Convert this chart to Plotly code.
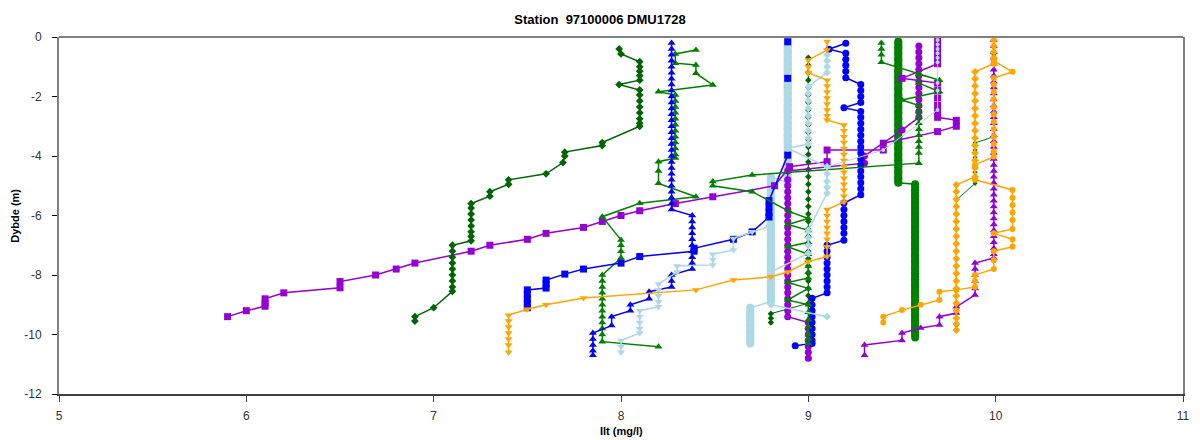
import plotly.graph_objects as go

# ---------------- axis ticks ----------------
x_tickvals = [5, 6, 7, 8, 9, 10, 11]
x_ticktext = ["5", "6", "7", "8", "9", "10", "11"]
y_tickvals = [0, -2, -4, -6, -8, -10, -12]
y_ticktext = ["0", "-2", "-4", "-6", "-8", "-10", "-12"]

title_text = "Station\u00a0 97100006 DMU1728"
x_title = "Ilt (mg/l)"
y_title = "Dybde (m)"

# ---------------- profiles (oxygen mg/l, depth m) ----------------
# dark green diamonds, 9.0 column
dg2_x = [9.00, 9.00, 9.00, 9.00, 9.00, 9.00, 9.00, 9.00, 9.00, 9.00, 9.00, 9.00, 9.00, 9.00, 9.00, 9.00, 9.00,
         9.00, 9.00, 9.00, 9.00, 9.00, 9.00, 9.00, 9.00, 9.00, 9.00, 9.00, 9.00, 9.00, 9.00, 9.00, 9.00, 9.00,
         8.80, 8.80, 8.80]
dg2_y = [-0.70, -0.95, -1.20, -1.45, -1.70, -1.95, -2.20, -2.45, -2.70, -2.95, -3.20, -3.45, -3.70, -3.95, -4.20, -4.45, -4.70,
         -4.95, -5.20, -5.45, -5.70, -5.95, -6.20, -6.45, -6.70, -6.95, -7.20, -7.45, -7.70, -7.95, -8.20, -8.45, -8.70, -8.95,
         -9.30, -9.45, -9.60]

# dark green diamonds, 9.8-10.0 columns
dg3_x = [9.99, 9.99, 9.99, 9.99, 9.99, 9.99, 9.99, 9.99, 9.99, 9.99, 9.99, 9.99, 9.99, 9.99,
         9.89, 9.89, 9.89, 9.89, 9.89, 9.89, 9.89,
         9.79, 9.79, 9.79, 9.79, 9.79, 9.79, 9.79, 9.79, 9.79, 9.79, 9.79, 9.79, 9.79, 9.79, 9.79, 9.79, 9.79, 9.79]
dg3_y = [-0.10, -0.35, -0.60, -0.85, -1.10, -1.35, -1.60, -1.85, -2.10, -2.35, -2.60, -2.85, -3.10, -3.35,
         -3.56, -3.80, -4.05, -4.30, -4.55, -4.80, -4.92,
         -5.48, -5.70, -5.95, -6.20, -6.45, -6.70, -6.95, -7.20, -7.45, -7.70, -7.95, -8.20, -8.45, -8.70, -8.95, -9.20, -9.45, -9.70]

# green dense profile (thick bar)
gbar_x = [9.48, 9.48, 9.48, 9.48, 9.48, 9.48, 9.48, 9.48, 9.48, 9.48, 9.48, 9.48, 9.48, 9.48, 9.48, 9.48, 9.48, 9.48,
          9.48, 9.48, 9.48, 9.48, 9.48, 9.48, 9.48,
          9.57, 9.57, 9.57, 9.57, 9.57, 9.57, 9.57, 9.57, 9.57, 9.57, 9.57, 9.57, 9.57, 9.57, 9.57, 9.57, 9.57, 9.57,
          9.57, 9.57, 9.57, 9.57, 9.57, 9.57, 9.57, 9.57, 9.57]
gbar_y = [-0.15, -0.35, -0.55, -0.75, -0.95, -1.15, -1.35, -1.55, -1.75, -1.95, -2.15, -2.35, -2.55, -2.75, -2.95, -3.15, -3.35, -3.55,
          -3.75, -3.95, -4.15, -4.35, -4.55, -4.75, -4.90,
          -4.95, -5.15, -5.35, -5.55, -5.75, -5.95, -6.15, -6.35, -6.55, -6.75, -6.95, -7.15, -7.35, -7.55, -7.75, -7.95, -8.15, -8.35,
          -8.55, -8.75, -8.95, -9.15, -9.35, -9.55, -9.75, -9.95, -10.10]

# light blue dense profile (thick bar)
lbbar_x = [8.89, 8.89, 8.89, 8.89, 8.89, 8.89, 8.89, 8.89, 8.89, 8.89, 8.89, 8.89, 8.89, 8.89, 8.89, 8.89, 8.89, 8.89,
           8.89, 8.89, 8.89, 8.89, 8.89, 8.89, 8.89,
           8.80, 8.80, 8.80, 8.80, 8.80, 8.80, 8.80, 8.80, 8.80, 8.80, 8.80, 8.80, 8.80, 8.80, 8.80, 8.80, 8.80, 8.80,
           8.80, 8.80, 8.80, 8.80,
           8.69, 8.69, 8.69, 8.69, 8.69, 8.69, 8.69]
lbbar_y = [-0.10, -0.30, -0.50, -0.70, -0.90, -1.10, -1.30, -1.50, -1.70, -1.90, -2.10, -2.30, -2.50, -2.70, -2.90, -3.10, -3.30, -3.50,
           -3.70, -3.90, -4.10, -4.30, -4.50, -4.70, -4.90,
           -4.70, -4.90, -5.10, -5.30, -5.50, -5.70, -5.90, -6.10, -6.30, -6.50, -6.70, -6.90, -7.10, -7.30, -7.50, -7.70, -7.90, -8.10,
           -8.30, -8.50, -8.70, -8.90,
           -9.10, -9.30, -9.50, -9.70, -9.90, -10.10, -10.30]

# purple squares (long profile to the left)
pq_x = [9.69, 9.69, 9.69, 9.69, 9.69, 9.50, 9.69, 9.69, 9.69, 9.69, 9.69, 9.69, 9.79, 9.79, 9.69, 9.40, 9.40, 9.10, 9.10,
        8.90, 8.82, 8.49, 8.29, 8.10, 8.00, 7.90, 7.80, 7.60, 7.50, 7.30, 7.20, 6.90, 6.80, 6.69, 6.50, 6.50, 6.20,
        6.10, 6.10, 6.10, 6.00, 5.90]
pq_y = [-0.10, -0.30, -0.50, -0.70, -0.90, -1.39, -1.55, -1.80, -2.05, -2.30, -2.50, -2.70, -2.80, -3.00, -3.18, -3.57, -3.80, -3.80, -4.19,
        -4.36, -5.00, -5.37, -5.60, -5.84, -6.00, -6.20, -6.40, -6.60, -6.80, -7.00, -7.20, -7.60, -7.80, -8.00, -8.22, -8.43, -8.60,
        -8.80, -8.95, -9.05, -9.20, -9.40]

# dark green diamonds (left profile)
dg1_x = [7.99, 8.00, 8.10, 8.10, 8.10, 8.10, 8.10, 7.99, 8.10, 8.10, 8.10, 8.10, 8.10, 8.10, 8.10, 8.10,
         7.90, 7.90, 7.70, 7.70, 7.69, 7.60, 7.40, 7.40, 7.30, 7.30, 7.20, 7.20, 7.20, 7.20, 7.20, 7.20, 7.20, 7.20,
         7.10, 7.10, 7.10, 7.10, 7.10, 7.10, 7.10, 7.10, 7.10, 7.00, 6.90, 6.90]
dg1_y = [-0.40, -0.57, -0.83, -1.00, -1.15, -1.30, -1.45, -1.60, -1.78, -1.95, -2.15, -2.35, -2.55, -2.75, -2.90, -3.00,
         -3.55, -3.65, -3.87, -4.00, -4.22, -4.60, -4.80, -4.95, -5.20, -5.35, -5.60, -5.75, -5.95, -6.15, -6.35, -6.55, -6.70, -6.85,
         -7.00, -7.20, -7.40, -7.60, -7.80, -8.00, -8.20, -8.40, -8.55, -9.10, -9.40, -9.55]

# green triangles, profile 1
gt1_x = [8.40, 8.29, 8.29, 8.40, 8.40, 8.49, 8.20,
         8.29, 8.29, 8.29, 8.29, 8.29, 8.29, 8.29, 8.29, 8.29, 8.29, 8.29, 8.29,
         8.20, 8.20, 8.20, 8.40, 8.10, 7.90, 8.00, 8.00, 8.00, 8.00,
         7.90, 7.90, 7.90, 7.90, 7.90, 7.90, 7.90, 7.90, 7.90, 7.90, 7.90, 7.90, 8.20]
gt1_y = [-0.44, -0.57, -0.88, -0.94, -1.22, -1.61, -1.84,
         -1.95, -2.15, -2.35, -2.55, -2.75, -2.95, -3.15, -3.35, -3.55, -3.75, -3.95, -4.07,
         -4.19, -4.50, -4.92, -5.37, -5.59, -6.04, -6.82, -7.00, -7.20, -7.43,
         -8.00, -8.20, -8.40, -8.60, -8.80, -9.00, -9.20, -9.40, -9.60, -9.80, -10.00, -10.24, -10.41]

# blue triangles
bt_x = [8.27, 8.27, 8.27, 8.27, 8.27, 8.27, 8.27, 8.27, 8.27, 8.27, 8.27, 8.27, 8.27, 8.27, 8.27, 8.27, 8.27, 8.27,
        8.27, 8.27, 8.27, 8.27, 8.27, 8.27, 8.27, 8.27, 8.27, 8.27, 8.27,
        8.38, 8.38, 8.38, 8.38, 8.38, 8.38, 8.38, 8.38, 8.38, 8.38,
        8.27, 8.27, 8.27, 8.15, 8.15, 8.05, 8.05, 7.95, 7.95, 7.85, 7.85, 7.85, 7.85, 7.85]
bt_y = [-0.20, -0.40, -0.60, -0.80, -1.00, -1.20, -1.40, -1.60, -1.80, -2.00, -2.20, -2.40, -2.60, -2.80, -3.00, -3.20, -3.40, -3.60,
        -3.80, -4.00, -4.20, -4.40, -4.60, -4.80, -5.00, -5.20, -5.40, -5.60, -5.80,
        -6.00, -6.20, -6.40, -6.60, -6.80, -7.00, -7.20, -7.40, -7.60, -7.80,
        -8.00, -8.20, -8.40, -8.56, -8.80, -9.00, -9.20, -9.40, -9.70, -9.95, -10.15, -10.35, -10.55, -10.70]

# blue squares (None = gap in the record)
bq_x = [8.89, None, 8.89, None, 8.89, 8.79, 8.79, 8.79, 8.79, 8.70, 8.60, 8.39, 8.39, 8.10, 8.00, 7.80, 7.70,
        7.60, 7.60, 7.60, 7.50, 7.50, 7.50, 7.50, 7.50]
bq_y = [-0.16, None, -1.39, None, -3.97, -5.50, -5.70, -5.90, -6.05, -6.55, -6.80, -7.10, -7.20, -7.38, -7.60, -7.80, -7.97,
        -8.17, -8.30, -8.44, -8.50, -8.65, -8.80, -8.95, -9.10]

# light blue triangles-down
lbd1_x = [8.79, 8.70, 8.60, 8.60, 8.49, 8.49, 8.49, 8.30, 8.30, 8.20, 8.20, 8.20, 8.20, 8.20, 8.10, 8.10, 8.10,
          8.10, 8.10, 8.00, 8.00, 8.00]
lbd1_y = [-6.37, -6.55, -6.77, -7.16, -7.30, -7.48, -7.66, -7.70, -7.90, -8.30, -8.50, -8.70, -8.90, -9.07, -9.20, -9.40, -9.60,
          -9.80, -9.95, -10.20, -10.40, -10.60]

# purple circles
pc_x = [9.59, 9.59, 9.59, 9.59, 9.59, 9.59, 9.59, 9.59, 9.59, 9.59, 9.59, 9.59, 9.59, 9.50, 9.30, 9.30, 8.89,
        8.89, 8.89, 8.89, 8.89, 8.89, 8.89, 8.89, 8.89, 8.89, 8.89, 8.89, 8.89, 8.89, 8.89, 8.89, 8.89, 8.89, 8.89,
        8.89, 8.89, 8.89, 8.89, 8.89, 8.89, 9.00, 9.00, 9.00, 9.00, 9.00, 9.00, 9.00]
pc_y = [-0.30, -0.50, -0.70, -0.90, -1.10, -1.30, -1.50, -1.70, -1.90, -2.10, -2.30, -2.50, -2.70, -3.13, -4.00, -4.24, -4.50,
        -4.80, -5.00, -5.20, -5.40, -5.60, -5.80, -6.00, -6.20, -6.40, -6.60, -6.80, -7.00, -7.20, -7.40, -7.60, -7.80, -8.00, -8.20,
        -8.40, -8.60, -8.80, -9.00, -9.20, -9.40, -9.60, -9.80, -10.00, -10.20, -10.40, -10.60, -10.80]

# purple triangles
pt_x = [9.99, 9.99, 9.99, 9.99, 9.99, 9.99, 9.99, 9.99, 9.99, 9.99, 9.99, 9.99, 9.99, 9.99, 9.99, 9.99, 9.99, 9.99, 9.99,
        9.99, 9.99, 9.99, 9.99, 9.99, 9.99, 9.99, 9.99, 9.99, 9.99, 9.99, 9.99, 9.99, 9.99, 9.99, 9.99, 9.99, 9.99, 9.99,
        9.89, 9.89, 9.89, 9.89, 9.89, 9.89, 9.79, 9.79, 9.70, 9.70, 9.60, 9.50, 9.50, 9.30, 9.30]
pt_y = [-0.10, -0.30, -0.50, -0.70, -0.90, -1.10, -1.30, -1.50, -1.70, -1.90, -2.10, -2.30, -2.50, -2.70, -2.90, -3.10, -3.30, -3.50, -3.70,
        -3.90, -4.10, -4.30, -4.50, -4.70, -4.90, -5.10, -5.30, -5.50, -5.70, -5.90, -6.10, -6.30, -6.50, -6.70, -6.90, -7.10, -7.30, -7.43,
        -7.60, -7.80, -8.00, -8.20, -8.45, -8.67, -9.07, -9.28, -9.40, -9.68, -9.78, -9.95, -10.20, -10.35, -10.70]

# blue circles
bc_x = [9.20, 9.11, 9.20, 9.20, 9.20, 9.20, 9.20, 9.28, 9.28, 9.28, 9.28, 9.19,
        9.28, 9.28, 9.28, 9.28, 9.28, 9.28, 9.28, 9.28, 9.28, 9.28, 9.28, 9.28, 9.28, 9.28, 9.28,
        9.19, 9.19, 9.19, 9.19, 9.19, 9.19, 9.19,
        9.10, 9.10, 9.10, 9.10, 9.10, 9.10, 9.10, 9.10, 9.10,
        9.02, 9.02, 9.02, 9.02, 9.02, 9.02, 9.02, 9.02, 9.02, 8.93]
bc_y = [-0.21, -0.41, -0.55, -0.75, -0.95, -1.15, -1.37, -1.60, -1.80, -2.00, -2.20, -2.38,
        -2.50, -2.70, -2.90, -3.10, -3.30, -3.50, -3.70, -3.90, -4.10, -4.30, -4.50, -4.70, -4.90, -5.10, -5.30,
        -5.58, -5.80, -6.00, -6.20, -6.40, -6.60, -6.83,
        -7.00, -7.20, -7.40, -7.60, -7.80, -8.00, -8.20, -8.40, -8.60,
        -8.78, -9.00, -9.20, -9.40, -9.60, -9.80, -10.00, -10.20, -10.30, -10.38]

# green triangles, profile 2
gt2_x = [9.39, 9.39, 9.39, 9.39, 9.70, 9.59, 9.59, 9.70, 9.50,
         9.59, 9.59, 9.59, 9.59, 9.59, 9.59, 9.59, 9.59, 9.59, 9.59,
         8.70, 8.49, 8.49, 8.70, 8.90, 9.00, 8.89, 9.00, 9.00, 9.00, 8.89,
         9.00, 9.00, 9.00, 9.00, 9.00, 8.89, 9.00, 8.89,
         9.00, 9.00, 9.00, 9.00, 9.00, 9.00, 9.00]
gt2_y = [-0.20, -0.40, -0.60, -0.85, -1.45, -1.25, -1.55, -1.84, -2.12,
         -2.30, -2.50, -2.70, -2.90, -3.10, -3.30, -3.50, -3.70, -3.90, -4.24,
         -4.64, -4.86, -5.00, -5.20, -5.87, -6.10, -6.30, -6.50, -6.70, -6.90, -7.05,
         -7.30, -7.50, -7.70, -7.90, -8.10, -8.25, -8.45, -8.84,
         -9.00, -9.25, -9.50, -9.75, -10.00, -10.15, -10.30]

# light blue diamonds
lbd2_x = [9.10, 9.10, 9.10, 9.10, 9.00, 9.00, 9.00, 9.00, 9.00, 9.00, 9.00, 9.00, 9.00, 8.89,
          9.10, 9.10, 9.10, 9.10, 9.10, 9.00, 9.00, 9.00, 9.00, 8.80, 8.80, 9.10]
lbd2_y = [-0.60, -0.80, -1.00, -1.20, -1.67, -1.90, -2.15, -2.40, -2.65, -2.90, -3.15, -3.40, -3.60, -3.74,
          -4.36, -4.60, -4.85, -5.05, -5.25, -6.50, -6.75, -7.00, -7.27, -7.90, -9.00, -9.40]

# orange triangles-down
ot_x = [9.10, 9.10, 9.00, 9.00, 9.00,
        9.10, 9.10, 9.10, 9.10, 9.10, 9.10, 9.10, 9.10,
        9.19, 9.19, 9.19, 9.19, 9.19, 9.19, 9.19, 9.19, 9.19, 9.19, 9.19, 9.19, 9.19, 9.19,
        9.10, 9.10, 9.10, 9.10, 9.10, 9.10, 9.10, 9.10,
        9.00, 8.89, 8.80, 8.60, 8.40, 7.80, 7.60, 7.50,
        7.40, 7.40, 7.40, 7.40, 7.40, 7.40, 7.40]
ot_y = [-0.15, -0.44, -0.77, -1.00, -1.20,
        -1.45, -1.65, -1.85, -2.05, -2.25, -2.45, -2.65, -2.79,
        -2.96, -3.15, -3.35, -3.55, -3.75, -3.95, -4.15, -4.35, -4.55, -4.75, -4.95, -5.15, -5.35, -5.55,
        -5.80, -6.00, -6.20, -6.40, -6.60, -6.80, -7.05, -7.38,
        -7.55, -7.90, -8.06, -8.17, -8.50, -8.77, -9.00, -9.15,
        -9.35, -9.55, -9.75, -9.95, -10.15, -10.35, -10.60]

# light blue circles (9.7 column)
lbc_x = [9.69, 9.69, 9.69, 9.69, 9.69, 9.69, 9.69, 9.69, 9.69, 9.40, 9.10]
lbc_y = [-0.10, -0.25, -0.40, -0.55, -0.70, -0.85, -1.55, -1.80, -2.45, -3.80, -4.36]

# orange diamonds
od_x = [9.99, 9.99, 9.99, 9.99, 9.99, 9.89,
        9.89, 9.89, 9.89, 9.89, 9.89, 9.89, 9.89, 9.89, 9.89, 9.89, 9.89, 9.89, 9.89, 9.89,
        9.79, 9.79, 9.79, 9.79, 9.79, 9.79, 9.79, 9.79, 9.79, 9.79, 9.79, 9.79, 9.79, 9.79, 9.79, 9.79, 9.79,
        9.79, 9.79, 9.79, 9.79]
od_y = [-0.10, -0.30, -0.50, -0.70, -0.90, -1.17,
        -1.40, -1.65, -1.90, -2.15, -2.40, -2.65, -2.90, -3.15, -3.40, -3.65, -3.90, -4.15, -4.40, -4.70,
        -4.97, -5.20, -5.45, -5.70, -5.95, -6.20, -6.45, -6.70, -6.95, -7.20, -7.45, -7.70, -7.95, -8.20, -8.45, -8.70, -8.95,
        -9.20, -9.45, -9.65, -9.85]

# orange circles
oc_x = [9.99, 10.09, 9.99, 9.99, 9.99, 9.99, 9.99, 9.99, 9.99, 9.99, 9.99, 9.99, 9.99, 9.99, 9.89, 9.89,
        10.09, 10.09, 10.09, 10.09, 10.09, 10.09, 9.99, 10.09, 10.09, 9.99, 9.99, 9.99, 9.89, 9.89, 9.89,
        9.79, 9.70, 9.70, 9.60, 9.50, 9.40, 9.40]
oc_y = [-0.80, -1.17, -1.38, -1.60, -1.85, -2.10, -2.35, -2.60, -2.85, -3.10, -3.35, -3.60, -3.85, -4.02, -4.30, -4.80,
        -5.14, -5.40, -5.65, -5.90, -6.15, -6.45, -6.60, -6.80, -7.05, -7.20, -7.50, -7.80, -8.00, -8.20, -8.40,
        -8.50, -8.56, -8.84, -9.00, -9.18, -9.40, -9.60]

# ---------------- styles ----------------
DKGREEN = "#006400"
GREEN = "#008000"
BLUE = "#0000FF"
PURPLE = "#9400D3"
LIGHTBLUE = "#ADD8E6"
ORANGE = "#FFA500"

# (x, y, colour, marker, marker size, line width, dense-bar)
series = [
    (dg2_x, dg2_y, DKGREEN, "diamond", 5, 1.0, False),
    (dg3_x, dg3_y, GREEN, "diamond", 4, 1.0, False),
    (gbar_x, gbar_y, GREEN, "circle", 8, 1.5, True),
    (lbbar_x, lbbar_y, LIGHTBLUE, "circle", 8, 1.5, True),
    (pq_x, pq_y, PURPLE, "square", 7, 1.5, False),
    (dg1_x, dg1_y, DKGREEN, "diamond", 6, 1.5, False),
    (gt1_x, gt1_y, GREEN, "triangle-up", 7, 1.5, False),
    (bt_x, bt_y, BLUE, "triangle-up", 7, 1.5, False),
    (bq_x, bq_y, BLUE, "square", 7, 1.5, False),
    (lbd1_x, lbd1_y, LIGHTBLUE, "triangle-down", 7, 1.5, False),
    (pc_x, pc_y, PURPLE, "circle", 7, 1.5, False),
    (pt_x, pt_y, PURPLE, "triangle-up", 7, 1.5, False),
    (bc_x, bc_y, BLUE, "circle", 7, 1.5, False),
    (gt2_x, gt2_y, GREEN, "triangle-up", 7, 1.5, False),
    (lbd2_x, lbd2_y, LIGHTBLUE, "diamond", 6, 1.5, False),
    (ot_x, ot_y, ORANGE, "triangle-down", 7, 1.5, False),
    (lbc_x, lbc_y, LIGHTBLUE, "circle", 4, 1.0, False),
    (od_x, od_y, ORANGE, "diamond", 6, 1.5, False),
    (oc_x, oc_y, ORANGE, "circle", 6, 1.5, False),
]

FONT = "Liberation Sans, Arial, sans-serif"


def column_runs(xs, ys):
    """Split a profile into runs of consecutive points sharing the same x."""
    runs, cur_x, cur = [], None, []
    for xv, yv in zip(xs, ys):
        if xv != cur_x and cur:
            runs.append((cur_x, cur))
            cur = []
        cur_x = xv
        cur.append(yv)
    if cur:
        runs.append((cur_x, cur))
    return runs


fig = go.Figure()
for xs, ys, col, sym, size, lw, dense in series:
    fig.add_trace(go.Scatter(
        x=xs, y=ys, mode="lines+markers",
        line=dict(color=col, width=lw),
        marker=dict(color=col, symbol=sym, size=size, line=dict(width=0)),
        connectgaps=False,
        hoverinfo="x+y",
    ))
    if dense:
        # the closely spaced markers merge into a solid bar
        for rx, rys in column_runs(xs, ys):
            fig.add_trace(go.Scatter(
                x=[rx] * len(rys), y=rys, mode="lines",
                line=dict(color=col, width=8),
                hoverinfo="skip",
            ))

fig.update_layout(
    width=1200, height=440,
    margin=dict(l=59, r=10, t=37, b=46),
    paper_bgcolor="white", plot_bgcolor="white",
    showlegend=False,
    font=dict(family=FONT, size=12, color="#333333"),
    title=dict(text="<b>" + title_text + "</b>", x=0.5, xref="container", xanchor="center",
               y=1 - 19 / 440, yref="container", yanchor="middle",
               font=dict(family=FONT, size=13, color="#000000")),
    xaxis=dict(range=[5, 11], tickvals=x_tickvals, ticktext=x_ticktext,
               showline=True, linecolor="#404040", linewidth=1.5, mirror=False,
               ticks="outside", ticklen=6, tickcolor="#404040", tickwidth=1,
               showgrid=False, zeroline=False, ticklabelstandoff=4,
               tickfont=dict(family=FONT, size=12, color="#333333")),
    yaxis=dict(range=[-12, 0], tickvals=y_tickvals, ticktext=y_ticktext,
               showline=True, linecolor="#808080", linewidth=2, mirror=True,
               ticks="outside", ticklen=5, tickcolor="#000000", tickwidth=1,
               showgrid=False, zeroline=False, ticklabelstandoff=8,
               tickfont=dict(family=FONT, size=12, color="#333333")),
    shapes=[dict(type="line", xref="paper", yref="paper", x0=0, x1=1, y0=1, y1=1,
                 line=dict(color="#808080", width=2))],
    annotations=[
        dict(text="<b>" + x_title + "</b>", xref="paper", yref="paper", x=0.5, y=-(431 - 394) / 357,
             xanchor="center", yanchor="middle", showarrow=False,
             font=dict(family=FONT, size=11, color="#000000")),
        dict(text="<b>" + y_title + "</b>", xref="paper", yref="paper", x=-(59 - 14) / 1131, y=0.5,
             xanchor="center", yanchor="middle", showarrow=False, textangle=-90,
             font=dict(family=FONT, size=11, color="#000000")),
    ],
)

fig.write_html("out.html")
